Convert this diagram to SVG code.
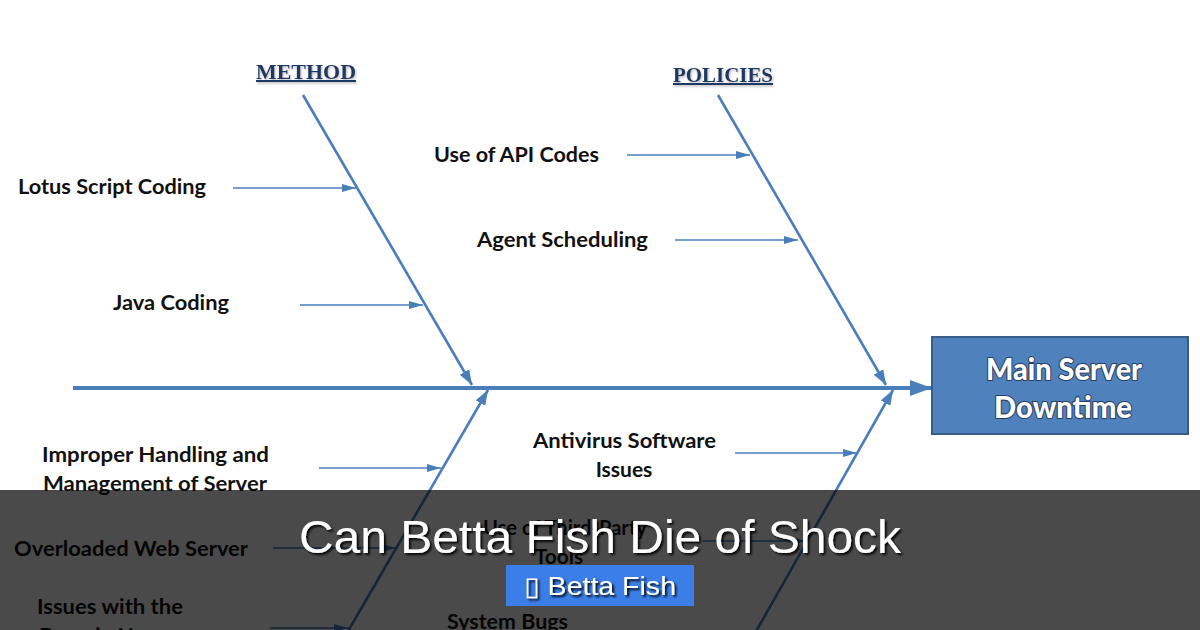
<svg xmlns="http://www.w3.org/2000/svg" width="1200" height="630" viewBox="0 0 1200 630">
<defs>
<style>
.lbl{font-family:Lato,"Liberation Sans",sans-serif;font-weight:bold;font-size:21px;fill:#111;}
.hdr{font-family:"Liberation Serif","DejaVu Serif",serif;font-weight:bold;font-size:20px;fill:#1f3864;text-decoration:underline;}
.bone{stroke:#4a7ebb;stroke-width:2.6;fill:none;}
.sub{stroke:#4a7ebb;stroke-width:1.6;fill:none;}
.spine{stroke:#4a7ebb;stroke-width:4;fill:none;}
.box{fill:#4f81bd;stroke:#385d8a;stroke-width:2;}
.boxt{font-family:Lato,"Liberation Sans",sans-serif;font-weight:900;font-size:30px;fill:#fff;stroke:#2a3f5f;stroke-width:2.2;stroke-linejoin:round;paint-order:stroke;}
.title{font-family:"Liberation Sans",Arial,sans-serif;font-size:46px;fill:#fff;}
.badge{font-family:"Liberation Sans","DejaVu Sans",sans-serif;font-size:26px;fill:#fff;}
</style>
<marker id="ahBone" markerUnits="userSpaceOnUse" markerWidth="16" markerHeight="12" refX="15" refY="6" orient="auto"><path d="M0,0.5 L15,6 L0,11.5 z" fill="#4a7ebb"/></marker>
<marker id="ahSub" markerUnits="userSpaceOnUse" markerWidth="14" markerHeight="10" refX="14" refY="5" orient="auto"><path d="M0,1 L14,5 L0,9 z" fill="#4a7ebb"/></marker>
<marker id="ahSpine" markerUnits="userSpaceOnUse" markerWidth="24" markerHeight="18" refX="22" refY="9" orient="auto"><path d="M0,1 L22,9 L0,17 z" fill="#4a7ebb"/></marker>
<filter id="sh" x="-10%" y="-30%" width="120%" height="160%"><feDropShadow dx="2" dy="2" stdDeviation="0.8" flood-color="#000" flood-opacity="0.9"/></filter>
<filter id="hsh" x="-10%" y="-30%" width="120%" height="160%"><feDropShadow dx="1" dy="1.5" stdDeviation="1" flood-color="#888" flood-opacity="0.6"/></filter>
</defs>
<rect width="1200" height="630" fill="#fff"/>

<g id="connectors">
<line class="spine" x1="73" y1="388" x2="932" y2="388" marker-end="url(#ahSpine)"/>
<line class="bone" x1="303" y1="95" x2="472" y2="385" marker-end="url(#ahBone)"/>
<line class="bone" x1="718" y1="95" x2="886" y2="385" marker-end="url(#ahBone)"/>
<line class="bone" x1="340" y1="645" x2="488" y2="390" marker-end="url(#ahBone)"/>
<line class="bone" x1="750" y1="642" x2="893" y2="390" marker-end="url(#ahBone)"/>
<line class="sub" x1="233" y1="188" x2="356" y2="188" marker-end="url(#ahSub)"/>
<line class="sub" x1="300" y1="305" x2="423" y2="305" marker-end="url(#ahSub)"/>
<line class="sub" x1="627" y1="155" x2="750" y2="155" marker-end="url(#ahSub)"/>
<line class="sub" x1="675" y1="240" x2="798" y2="240" marker-end="url(#ahSub)"/>
<line class="sub" x1="319" y1="468" x2="441" y2="468" marker-end="url(#ahSub)"/>
<line class="sub" x1="273" y1="548" x2="396" y2="548" marker-end="url(#ahSub)"/>
<line class="sub" x1="270" y1="628" x2="348" y2="628" marker-end="url(#ahSub)"/>
<line class="sub" x1="735" y1="453" x2="857" y2="453" marker-end="url(#ahSub)"/>
<line class="sub" x1="703" y1="541" x2="806" y2="541" marker-end="url(#ahSub)"/>
</g>

<g id="hdr-method"><text class="hdr" x="306" y="79" text-anchor="middle" textLength="100" lengthAdjust="spacingAndGlyphs" filter="url(#hsh)">METHOD</text></g>
<g id="hdr-policies"><text class="hdr" x="723" y="82" text-anchor="middle" textLength="100" lengthAdjust="spacingAndGlyphs" filter="url(#hsh)">POLICIES</text></g>

<g id="n-lotus"><text class="lbl" x="18" y="194" textLength="188" lengthAdjust="spacingAndGlyphs">Lotus Script Coding</text></g>
<g id="n-java"><text class="lbl" x="113" y="310" textLength="116" lengthAdjust="spacingAndGlyphs">Java Coding</text></g>
<g id="n-api"><text class="lbl" x="434" y="161.5" textLength="165" lengthAdjust="spacingAndGlyphs">Use of API Codes</text></g>
<g id="n-agent"><text class="lbl" x="477" y="246.5" textLength="171" lengthAdjust="spacingAndGlyphs">Agent Scheduling</text></g>
<g id="n-improper"><text class="lbl" x="42" y="462" textLength="227" lengthAdjust="spacingAndGlyphs">Improper Handling and</text><text class="lbl" x="43" y="490.5" textLength="224" lengthAdjust="spacingAndGlyphs">Management of Server</text></g>
<g id="n-overloaded"><text class="lbl" x="14" y="555.5" textLength="234" lengthAdjust="spacingAndGlyphs">Overloaded Web Server</text></g>
<g id="n-domain"><text class="lbl" x="37" y="614" textLength="146" lengthAdjust="spacingAndGlyphs">Issues with the</text><text class="lbl" x="39" y="642.5">Domain Name</text></g>
<g id="n-antivirus"><text class="lbl" x="624.5" y="448" text-anchor="middle" textLength="183" lengthAdjust="spacingAndGlyphs">Antivirus Software</text><text class="lbl" x="624" y="476.5" text-anchor="middle">Issues</text></g>
<g id="n-thirdparty"><text class="lbl" x="565" y="535" text-anchor="middle" textLength="164" lengthAdjust="spacingAndGlyphs">Use of Third-Party</text><text class="lbl" x="559" y="563.5" text-anchor="middle">Tools</text></g>
<g id="n-bugs"><text class="lbl" x="447" y="629" textLength="121" lengthAdjust="spacingAndGlyphs">System Bugs</text></g>

<g id="n-main">
<rect class="box" x="932" y="337" width="256" height="97"/>
<text class="boxt" x="1064" y="380" text-anchor="middle" textLength="156" lengthAdjust="spacingAndGlyphs">Main Server</text>
<text class="boxt" x="1063" y="418" text-anchor="middle" textLength="138" lengthAdjust="spacingAndGlyphs">Downtime</text>
</g>

<g id="overlay">
<rect x="0" y="490" width="1200" height="140" fill="#000" fill-opacity="0.71"/>
<text class="title" x="600" y="553" text-anchor="middle" textLength="602" lengthAdjust="spacingAndGlyphs" filter="url(#sh)">Can Betta Fish Die of Shock</text>
<rect x="506" y="565" width="188" height="41" fill="#3b7ee8"/>
<text class="badge" x="600" y="595" text-anchor="middle" textLength="152" lengthAdjust="spacingAndGlyphs" filter="url(#sh)">▯ Betta Fish</text>
</g>
</svg>
